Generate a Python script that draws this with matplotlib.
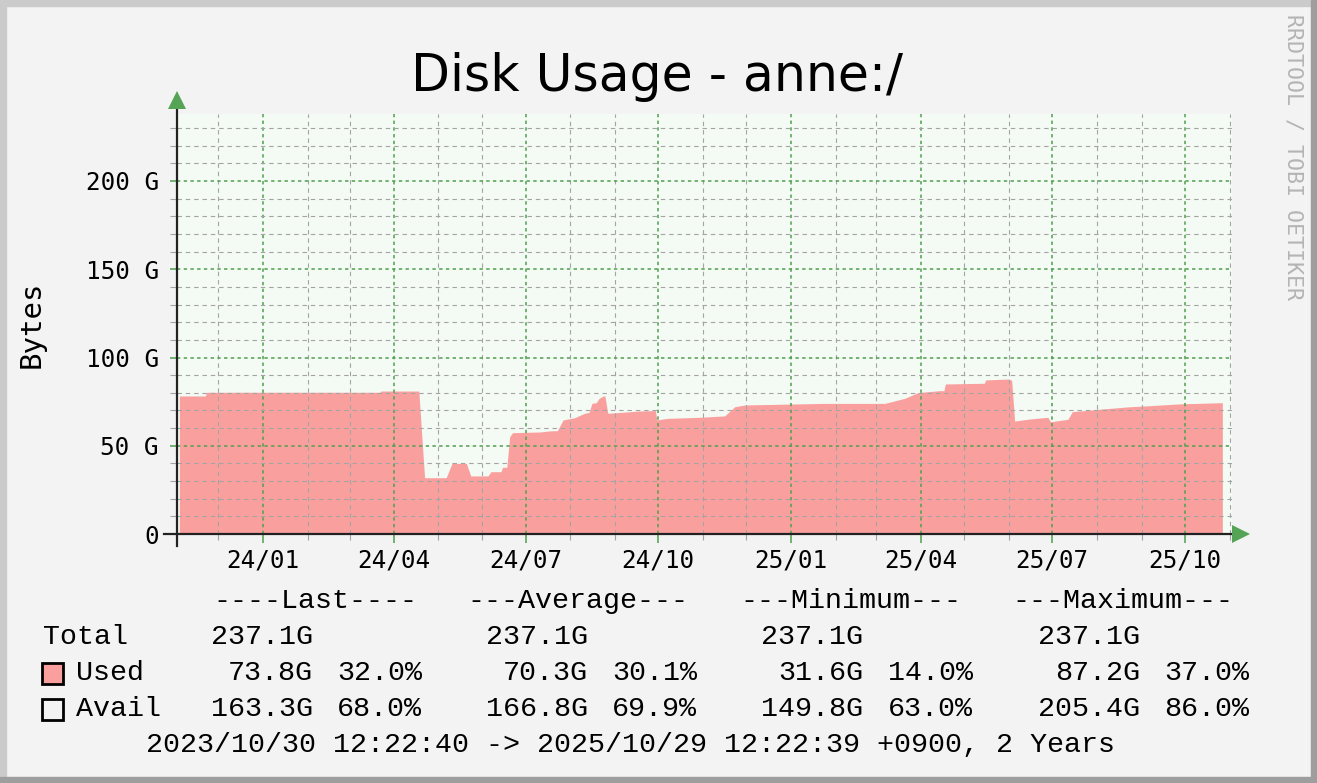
import numpy as np
import pandas as pd
import matplotlib
matplotlib.use("Agg")
import matplotlib.pyplot as plt
import matplotlib.dates as mdates
from matplotlib.patches import Rectangle

# ---- data (G bytes) ----
dates = [
    "2023-11-04", "2023-11-22", "2023-11-23", "2024-03-22", "2024-03-23",
    "2024-04-18", "2024-04-22", "2024-05-07", "2024-05-11", "2024-05-21",
    "2024-05-24", "2024-06-05", "2024-06-07", "2024-06-14", "2024-06-15",
    "2024-06-18", "2024-06-20", "2024-06-22", "2024-07-11", "2024-07-19",
    "2024-07-23", "2024-07-27", "2024-08-04", "2024-08-11", "2024-08-14",
    "2024-08-16", "2024-08-19", "2024-08-21", "2024-08-24", "2024-08-25",
    "2024-08-27", "2024-09-07", "2024-09-18", "2024-09-29", "2024-09-30",
    "2024-10-07", "2024-10-29", "2024-11-16", "2024-11-23", "2024-11-30",
    "2025-01-24", "2025-03-07", "2025-03-21", "2025-03-30", "2025-04-14",
    "2025-04-17", "2025-04-18", "2025-05-15", "2025-05-16", "2025-06-01",
    "2025-06-03", "2025-06-05", "2025-06-16", "2025-06-28", "2025-06-30",
    "2025-07-12", "2025-07-15", "2025-08-03", "2025-08-24", "2025-09-07",
    "2025-09-27", "2025-10-27",
]
used = [
    78.2, 78.2, 80.3, 80.3, 81.0,
    81.0, 31.9, 31.9, 40.0, 40.0,
    32.9, 32.9, 35.3, 35.3, 37.8,
    37.8, 55.1, 57.4, 57.8, 58.5,
    58.5, 64.6, 65.9, 68.4, 68.9,
    74.0, 74.4, 76.9, 78.2, 78.2,
    68.4, 69.0, 69.7, 69.9, 64.6,
    65.5, 66.1, 66.9, 72.1, 73.1,
    74.0, 74.0, 76.9, 80.1, 81.2,
    81.2, 85.0, 85.4, 87.3, 87.8,
    87.0, 64.0, 65.2, 66.1, 63.6,
    65.0, 69.3, 70.7, 72.1, 72.7,
    73.7, 74.4,
]

y_ticks = [0, 50, 100, 150, 200]
y_labels = ["0", "50 G", "100 G", "150 G", "200 G"]

title = "Disk Usage - anne:/"
headers = ["----Last----", "---Average---", "---Minimum---", "---Maximum---"]
total_vals = ["237.1G", "237.1G", "237.1G", "237.1G"]
used_vals = ["73.8G", "70.3G", "31.6G", "87.2G"]
used_pct = ["32.0%", "30.1%", "14.0%", "37.0%"]
avail_vals = ["163.3G", "166.8G", "149.8G", "205.4G"]
avail_pct = ["68.0%", "69.9%", "63.0%", "86.0%"]
footer = "2023/10/30 12:22:40 -> 2025/10/29 12:22:39 +0900, 2 Years"

# ---- style ----
W, H = 1317, 783
BG = "#f3f3f3"
CANVAS = "#f4faf4"
FILL = "#f9a09e"
GREEN = "#4f9f4f"
GRAY = "#a4a4a4"
MONO = "DejaVu Sans Mono"
LEG = "Liberation Mono"


def fx(x):
    return x / W


def fy(y):
    return 1 - y / H


fig = plt.figure(figsize=(W / 100, H / 100), dpi=100, facecolor=BG)

# 3d-ish frame
fig.patches.append(Rectangle((0, 0), fx(6), 1, transform=fig.transFigure, color="#cbcbcb", zorder=0))
fig.patches.append(Rectangle((0, fy(6)), 1, 6 / H, transform=fig.transFigure, color="#cbcbcb", zorder=0))
fig.patches.append(Rectangle((fx(W - 6), 0), fx(6), 1, transform=fig.transFigure, color="#9e9e9e", zorder=0))
fig.patches.append(Rectangle((0, 0), 1, 6 / H, transform=fig.transFigure, color="#9e9e9e", zorder=0))

# plot area in pixels
left_px, right_px, top_px, bot_px = 177, 1232, 114, 534
ax = fig.add_axes([fx(left_px), fy(bot_px), fx(right_px - left_px), (bot_px - top_px) / H])
ax.set_facecolor(CANVAS)

# x scale: 24/01 grid line sits at x=263, 1.4426 px per day
px_day = 1.4426
ref = mdates.date2num(pd.Timestamp("2024-01-01"))
x0 = ref - (263 - left_px) / px_day
x1 = x0 + (right_px - left_px) / px_day
ax.set_xlim(x0, x1)
ax.set_ylim(0, (bot_px - top_px) * 50 / 88.25)

t = mdates.date2num(pd.to_datetime(dates))
ax.fill_between(t, used, 0, color=FILL, linewidth=0, zorder=1)

ax.xaxis.set_major_locator(mdates.MonthLocator(bymonth=[1, 4, 7, 10]))
ax.xaxis.set_minor_locator(mdates.MonthLocator())
ax.xaxis.set_major_formatter(mdates.DateFormatter("%y/%m"))
ax.set_yticks(y_ticks)
ax.set_yticklabels(y_labels)
ax.set_yticks(np.arange(0, 240, 10), minor=True)

ax.set_axisbelow(False)
ax.grid(True, which="major", color=GREEN, linewidth=1.1, linestyle=(0, (2.2, 2.2)))
ax.grid(True, which="minor", color=GRAY, linewidth=0.8, linestyle=(0, (4, 3.5)))

for s in ax.spines.values():
    s.set_visible(False)

ax.tick_params(axis="y", which="major", length=5, width=1.1, color=GREEN, pad=8)
ax.tick_params(axis="y", which="minor", length=5, width=0.8, color=GRAY)
ax.tick_params(axis="x", which="major", length=6.5, width=1.1, color=GREEN, pad=4)
ax.tick_params(axis="x", which="minor", length=4.3, width=0.8, color=GRAY)
for lab in ax.get_xticklabels() + ax.get_yticklabels():
    lab.set_fontfamily(MONO)
    lab.set_fontsize(17.5)

# axis lines with arrows
ax.plot([0, 0], [-12 / 420, 1.03], transform=ax.transAxes, color="#222222",
        linewidth=1.6, clip_on=False, zorder=5)
ax.plot([-13 / 1055, 1.0], [0, 0], transform=ax.transAxes, color="#222222",
        linewidth=1.6, clip_on=False, zorder=5)
ax.plot([0], [1.0 + 14 / 420], marker="^", markersize=13, color="#55a355",
        transform=ax.transAxes, clip_on=False, zorder=6, markeredgewidth=0)
ax.plot([1.0 + 9 / 1055], [0], marker=">", markersize=13, color="#55a355",
        transform=ax.transAxes, clip_on=False, zorder=6, markeredgewidth=0)

# titles
fig.text(fx(657), fy(77), title, ha="center", va="center", fontsize=36.4,
         family="DejaVu Sans")
fig.text(fx(32), fy(324), "Bytes", ha="center", va="center", rotation=90,
         fontsize=21, family=MONO)
fig.text(fx(1293), fy(157), "RRDTOOL / TOBI OETIKER", ha="center", va="center",
         rotation=-90, fontsize=15.6, family=MONO, color="#b4b4b4")

# legend
LS = 20.4
head_x = [213, 467, 740, 1012]
num_x = [313, 588, 863, 1140]
pct_x = [337, 612, 888, 1164]
for hx, h in zip(head_x, headers):
    fig.text(fx(hx), fy(601), h, ha="left", va="center", fontsize=LS, family=LEG)

fig.text(fx(43), fy(637), "Total", ha="left", va="center", fontsize=LS, family=LEG)
fig.text(fx(76), fy(673), "Used", ha="left", va="center", fontsize=LS, family=LEG)
fig.text(fx(76), fy(709), "Avail", ha="left", va="center", fontsize=LS, family=LEG)
for i in range(4):
    fig.text(fx(num_x[i]), fy(637), total_vals[i], ha="right", va="center", fontsize=LS, family=LEG)
    fig.text(fx(num_x[i]), fy(673), used_vals[i], ha="right", va="center", fontsize=LS, family=LEG)
    fig.text(fx(pct_x[i]), fy(673), used_pct[i], ha="left", va="center", fontsize=LS, family=LEG)
    fig.text(fx(num_x[i]), fy(709), avail_vals[i], ha="right", va="center", fontsize=LS, family=LEG)
    fig.text(fx(pct_x[i]), fy(709), avail_pct[i], ha="left", va="center", fontsize=LS, family=LEG)

fig.patches.append(Rectangle((fx(42), fy(684)), fx(21), 21 / H, transform=fig.transFigure,
                             facecolor=FILL, edgecolor="black", linewidth=2))
fig.patches.append(Rectangle((fx(42), fy(720)), fx(21), 21 / H, transform=fig.transFigure,
                             facecolor=BG, edgecolor="black", linewidth=2))

fig.text(fx(630), fy(745), footer, ha="center", va="center", fontsize=LS, family=LEG)

fig.savefig("out.png", dpi=100, facecolor=BG)
